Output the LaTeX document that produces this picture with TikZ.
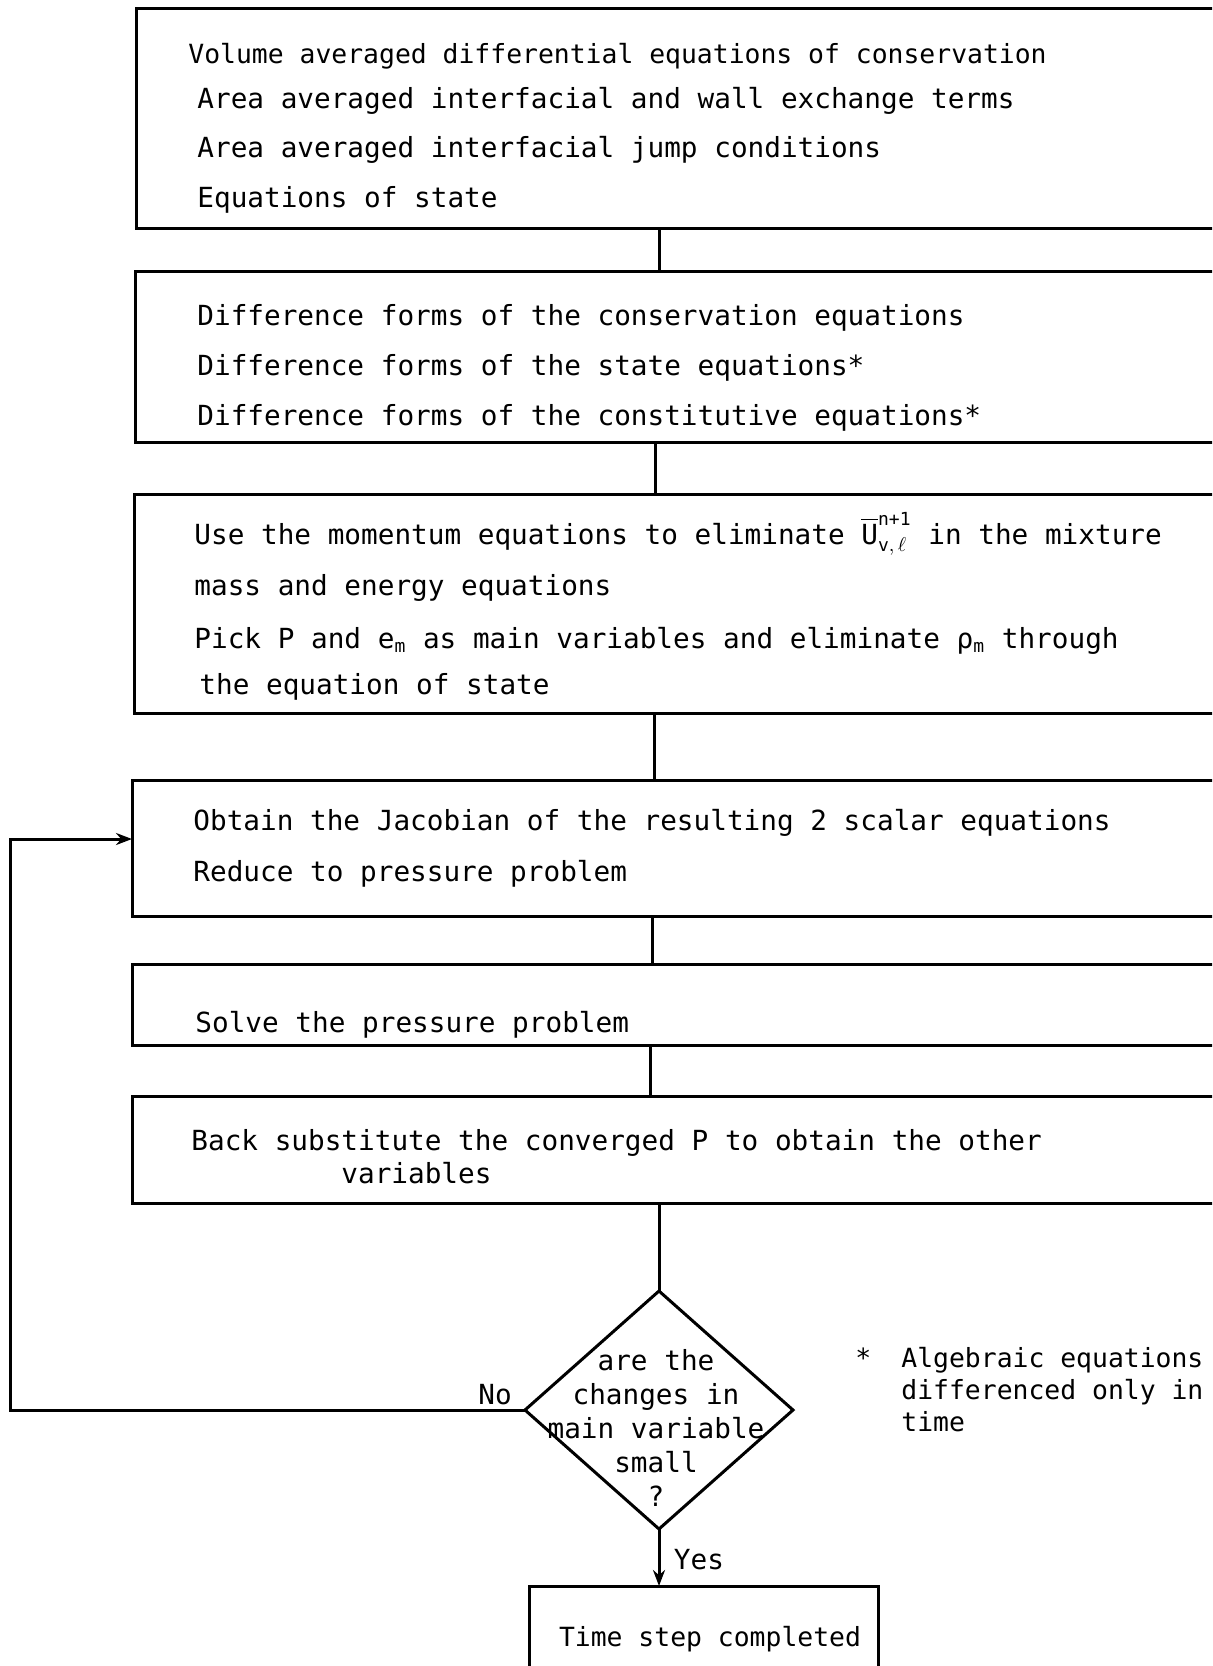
\documentclass[tikz,border=0pt]{standalone}
\usepackage{fontspec}
\usepackage{amsmath}
\setmainfont{DejaVu Sans Mono}
\usetikzlibrary{arrows.meta,shapes.geometric}
\begin{document}
\begin{tikzpicture}[x=0.5pt,y=-0.5pt,
  box/.style={draw, line width=1.5pt, rectangle, anchor=north west, inner sep=0pt, outer sep=0pt},
  txt/.style={anchor=west, inner sep=0pt, yshift=-2pt, font=\fontsize{13.85}{16}\selectfont, text height=9pt, text depth=3pt},
  small/.style={font=\fontsize{13.2}{16}\selectfont},
  conn/.style={line width=1.5pt},
  arr/.style={conn, -{Stealth[length=8pt,width=6pt]}},
  dia/.style={draw, line width=1.5pt, diamond, inner sep=0pt, outer sep=0pt, minimum width=134pt, minimum height=119pt}
]
\useasboundingbox (0,0) rectangle (1212,1666);
\clip (0,0) rectangle (1212,1666);
% boxes
\node[box, minimum width=582pt, minimum height=110pt] (b1) at (136,8) {};
\node[box, minimum width=582pt, minimum height=85.5pt] (b2) at (135,271) {};
\node[box, minimum width=583pt, minimum height=109.5pt] (b3) at (134,494) {};
\node[box, minimum width=584pt, minimum height=68pt] (b4) at (132,780) {};
\node[box, minimum width=584pt, minimum height=40.5pt] (b5) at (132,964) {};
\node[box, minimum width=584pt, minimum height=53.5pt] (b6) at (132,1096) {};
\node[dia] (d) at (659,1410) {};
\node[box, minimum width=174.5pt, minimum height=66.5pt] (b7) at (529,1586) {};
% texts
\node[txt, small] (t11) at (188,53) {Volume averaged differential equations of conservation};
\node[txt] (t12) at (197,98) {Area averaged interfacial and wall exchange terms};
\node[txt] (t13) at (197,147) {Area averaged interfacial jump conditions};
\node[txt] (t14) at (197,197) {Equations of state};
\node[txt] (t21) at (197,315) {Difference forms of the conservation equations};
\node[txt] (t22) at (197,365) {Difference forms of the state equations*};
\node[txt] (t23) at (197,415) {Difference forms of the constitutive equations*};
\node[txt] (t31) at (194,534) {Use the momentum equations to eliminate $\overline{\text{U}}^{\text{\small n+1}}_{\text{\small v},\,\ell}$ in the mixture};
\node[txt] (t32) at (194,585) {mass and energy equations};
\node[txt] (t33) at (194,638) {Pick P and e$_{\text{\small m}}$ as main variables and eliminate ρ$_{\text{\small m}}$ through};
\node[txt] (t34) at (199,684) {the equation of state};
\node[txt] (t41) at (193,820) {Obtain the Jacobian of the resulting 2 scalar equations};
\node[txt] (t42) at (193,871) {Reduce to pressure problem};
\node[txt] (t51) at (195,1022) {Solve the pressure problem};
\node[txt] (t61) at (191,1140) {Back substitute the converged P to obtain the other};
\node[txt] (t62) at (341,1173) {variables};
\node[txt, anchor=center, align=center, yshift=0pt, text height=, text depth=, font=\fontsize{13.85}{16.9}\selectfont] (dt) at (656,1424) {are the\\changes in\\main variable\\small\\?};
\node[txt, small, anchor=center, yshift=0pt] (t71) at (710,1636) {Time step completed};
\node[txt, anchor=center, yshift=-1pt] (no) at (495,1392) {No};
\node[txt, anchor=center, yshift=0pt] (yes) at (699,1559) {Yes};
\node[txt, small] (star) at (855,1357) {*};
\node[txt, small] (f1) at (901,1357) {Algebraic equations};
\node[txt, small] (f2) at (901,1389) {differenced only in};
\node[txt, small] (f3) at (901,1421) {time};
% connectors
\coordinate (x1) at (659,0);
\coordinate (x2) at (655,0);
\coordinate (x3) at (654,0);
\coordinate (x4) at (652,0);
\coordinate (x5) at (650,0);
\coordinate (lx) at (10,0);
\coordinate (ly) at (0,839);
\draw[conn] (b1.south -| x1) -- (b2.north -| x1);
\draw[conn] (b2.south -| x2) -- (b3.north -| x2);
\draw[conn] (b3.south -| x3) -- (b4.north -| x3);
\draw[conn] (b4.south -| x4) -- (b5.north -| x4);
\draw[conn] (b5.south -| x5) -- (b6.north -| x5);
\draw[conn] (b6.south -| d.north) -- (d.north);
\draw[arr] (d.south) -- (b7.north -| d.south);
\draw[arr] (d.west) -- (d.west -| lx) -- (lx |- ly) -- (b4.west |- ly);
\end{tikzpicture}
\end{document}
